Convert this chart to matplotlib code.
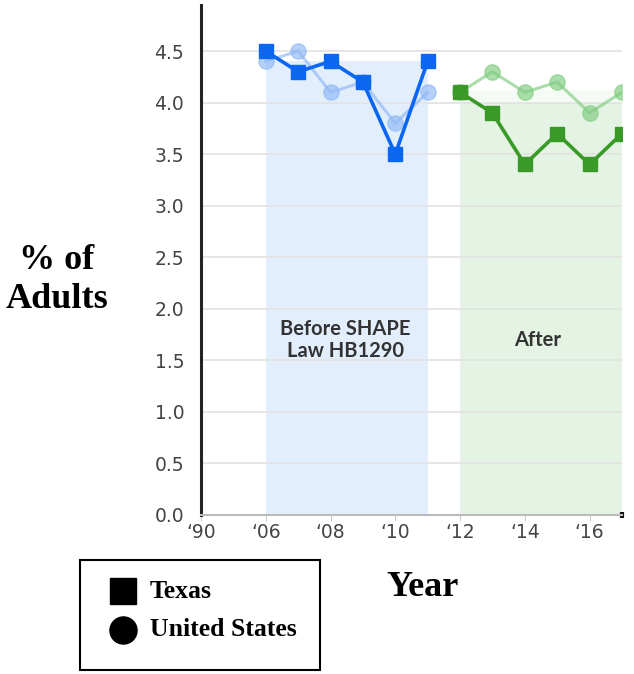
import matplotlib
matplotlib.use("Agg")
import matplotlib.pyplot as plt
from matplotlib.lines import Line2D
from matplotlib.patches import Rectangle

# ---- data ----
years_before = [2006, 2007, 2008, 2009, 2010, 2011]
years_after = [2012, 2013, 2014, 2015, 2016, 2017]
texas_before = [4.5, 4.3, 4.4, 4.2, 3.5, 4.4]
us_before = [4.4, 4.5, 4.1, 4.2, 3.8, 4.1]
texas_after = [4.1, 3.9, 3.4, 3.7, 3.4, 3.7]
us_after = [4.1, 4.3, 4.1, 4.2, 3.9, 4.1]
xtick_pos = [2004, 2006, 2008, 2010, 2012, 2014, 2016]
xtick_labels = ["\u201890", "\u201806", "\u201808", "\u201810", "\u201812", "\u201814", "\u201816"]
yticks = [0.0, 0.5, 1.0, 1.5, 2.0, 2.5, 3.0, 3.5, 4.0, 4.5]
region_before = (2006, 2011, 4.4)
region_after = (2012, 2017, 4.0)

blue = "#0b66f2"
green = "#3a9a28"
light_blue = "#8fb8f5"
light_green = "#7fcc7f"

fig = plt.figure(figsize=(6.34, 6.74), dpi=100)
ax = fig.add_axes([0.317, 0.236, 0.664, 0.757])

ax.set_xlim(2004, 2017)
ax.set_ylim(0, 4.95)

# shaded regions
ax.fill_between([region_before[0], region_before[1]], 0, region_before[2], color="#e3eefd", lw=0, zorder=0)
ax.fill_between([region_after[0], region_after[1]], 0, region_after[2], color="#e4f3e4", lw=0, zorder=0)
ax.fill_between([region_after[0], region_after[1]], region_after[2], 4.12, color="#f4faf4", lw=0, zorder=0)

# grid lines
for y in yticks[1:]:
    ax.axhline(y, color="#e2e2e2", lw=1.2, zorder=0.5)

# US (light circles)
ax.plot(years_before, us_before, color=light_blue, lw=2.2, marker="o", ms=11,
        markerfacecolor=light_blue, markeredgecolor=light_blue, alpha=0.65, zorder=2)
ax.plot(years_after, us_after, color=light_green, lw=2.2, marker="o", ms=11,
        markerfacecolor=light_green, markeredgecolor=light_green, alpha=0.65, zorder=2)
# Texas (squares)
ax.plot(years_before, texas_before, color=blue, lw=2.6, marker="s", ms=10.5, zorder=3)
ax.plot(years_after, texas_after, color=green, lw=2.6, marker="s", ms=10.5, zorder=3)

# region labels
ax.text(2008.45, 1.7, "Before SHAPE\nLaw HB1290", ha="center", va="center", fontsize=14.5,
        fontweight="bold", color="#333333", family="Lato", linespacing=1.15)
ax.text(2014.4, 1.7, "After", ha="center", va="center", fontsize=14.5,
        fontweight="bold", color="#333333", family="Lato")

# axes styling
for s in ["top", "right"]:
    ax.spines[s].set_visible(False)
ax.spines["left"].set_color("#222222")
ax.spines["left"].set_linewidth(2.2)
ax.spines["bottom"].set_color("#bbbbbb")
ax.spines["bottom"].set_linewidth(1.5)

ax.set_yticks(yticks)
ax.set_yticklabels([f"{v:.1f}" for v in yticks])
ax.set_xticks(xtick_pos)
ax.set_xticklabels(xtick_labels)
ax.tick_params(axis="y", length=0, pad=12, labelsize=13.5, labelcolor="#444444")
ax.tick_params(axis="x", length=4, color="#cccccc", pad=2, labelsize=13.5, labelcolor="#444444")
ax.set_xticks([2017], minor=True)
ax.tick_params(axis="x", which="minor", length=5, width=3, color="#111111", direction="inout")

# axis titles
fig.text(0.09, 0.585, "% of\nAdults", ha="center", va="center", fontsize=26,
         fontweight="bold", family="Liberation Serif", linespacing=1.25)
fig.text(0.667, 0.128, "Year", ha="center", va="center", fontsize=26,
         fontweight="bold", family="Liberation Serif")

# legend box (drawn manually)
fig.patches.append(Rectangle((80 / 634, 1 - 670 / 674), 240 / 634, 110 / 674,
                             transform=fig.transFigure, fill=False, ec="black", lw=1.5))
fig.add_artist(Line2D([123 / 634], [1 - 591 / 674], marker="s", ms=18.5, color="black",
                      transform=fig.transFigure, linestyle="none"))
fig.add_artist(Line2D([123 / 634], [1 - 630 / 674], marker="o", ms=19.5, color="black",
                      transform=fig.transFigure, linestyle="none"))
fig.text(150 / 634, 1 - 591 / 674, "Texas", ha="left", va="center", fontsize=18.5,
         fontweight="bold", family="Liberation Serif")
fig.text(150 / 634, 1 - 630 / 674, "United States", ha="left", va="center", fontsize=18.5,
         fontweight="bold", family="Liberation Serif")

fig.savefig("out.png", dpi=100)
